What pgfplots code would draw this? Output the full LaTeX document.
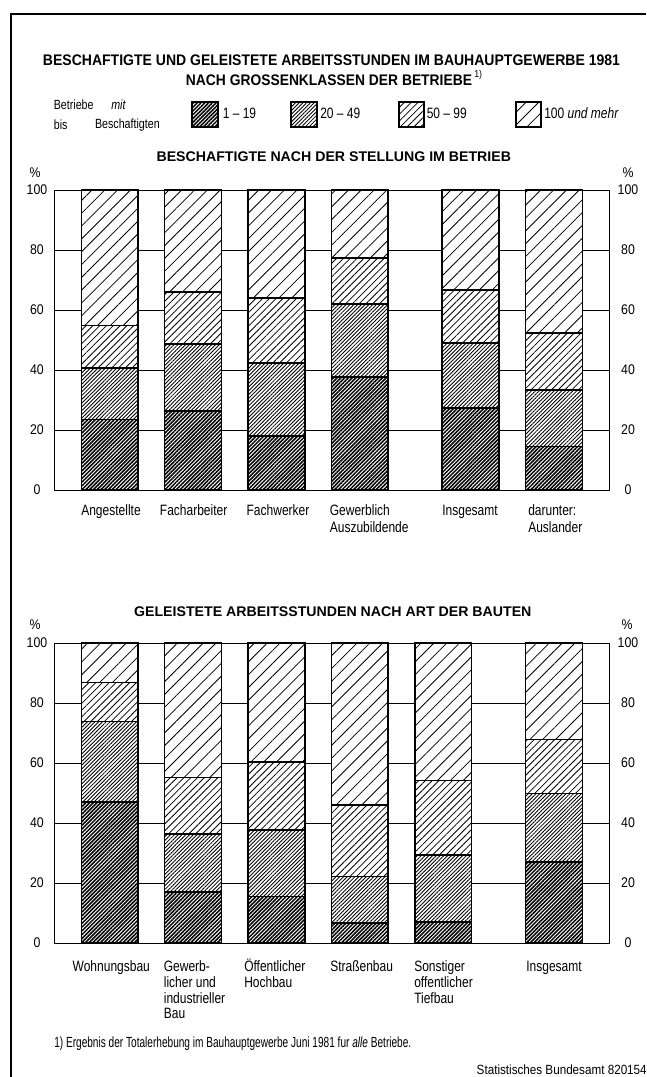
\documentclass[border=0pt]{standalone}
\usepackage{fontspec}
\setmainfont{Liberation Sans}[FakeStretch=0.88]
\newfontfamily\labfont{Liberation Sans}[FakeStretch=0.8]
\usepackage{graphicx}
\usepackage{pgfplots}
\pgfplotsset{compat=1.18}
\usetikzlibrary{patterns.meta}

\tikzset{
  hA/.style={preaction={fill=white}, pattern={Lines[angle=45,distance=2.0pt,line width=1.15pt]}},
  hB/.style={preaction={fill=white}, pattern={Lines[angle=45,distance=2.0pt,line width=0.65pt]}},
  hC/.style={preaction={fill=white}, pattern={Lines[angle=45,distance=3.6pt,line width=0.6pt]}},
  hD/.style={preaction={fill=white}, pattern={Lines[angle=45,distance=6.8pt,line width=0.6pt]}},
  bst/.style={draw=black, line width=1.2pt},
  lab/.style={font=\labfont\fontsize{11.25pt}{12pt}\selectfont, inner sep=0pt, text height=8.2pt, text depth=2.3pt},
  tk/.style={font=\fontsize{10.5pt}{12pt}\selectfont, inner sep=0pt},
}
\pgfplotsset{
  panel/.style={
    ybar stacked, bar width=0.683,
    scale only axis, width=415.65pt, height=225pt,
    xmin=0.34, xmax=6.99, ymin=0, ymax=100,
    ytick={20,40,60,80}, yticklabels={}, xtick=\empty,
    ytick style={draw=none},
    ymajorgrids, major grid style={black, line width=0.55pt},
    axis line style={black, line width=0.6pt},
    clip=false,
  }
}

\begin{document}
\begin{tikzpicture}
\useasboundingbox (0,0) rectangle (484.5pt,-807.75pt);

% ---- upper panel: Beschaeftigte nach der Stellung im Betrieb
\begin{axis}[panel, at={(41.1pt,-367.5pt)}, anchor=south west]
\addplot[bst, hA] coordinates {(1,23.5) (2,26.3) (3,18.0) (4,37.6) (5.33,27.3) (6.33,14.5)};
\addplot[bst, hB] coordinates {(1,17.1) (2,22.4) (3,24.4) (4,24.5) (5.33,21.7) (6.33,18.9)};
\addplot[bst, hC] coordinates {(1,14.2) (2,17.4) (3,21.6) (4,15.3) (5.33,17.6) (6.33,19.0)};
\addplot[bst, hD] coordinates {(1,45.2) (2,33.9) (3,36.0) (4,22.6) (5.33,33.4) (6.33,47.6)};
\end{axis}

% ---- lower panel: Geleistete Arbeitsstunden nach Art der Bauten
\begin{axis}[panel, at={(41.1pt,-707.25pt)}, anchor=south west]
\addplot[bst, hA] coordinates {(1,47.1) (2,17.0) (3,15.5) (4,6.7) (5,7.0) (6.33,27.1)};
\addplot[bst, hB] coordinates {(1,26.8) (2,19.3) (3,22.2) (4,15.5) (5,22.4) (6.33,22.8)};
\addplot[bst, hC] coordinates {(1,13.0) (2,18.9) (3,22.7) (4,23.8) (5,24.8) (6.33,18.0)};
\addplot[bst, hD] coordinates {(1,13.1) (2,44.8) (3,39.6) (4,54.0) (5,45.8) (6.33,32.1)};
\end{axis}

\begin{scope}[x=0.75pt,y=-0.75pt]
% frame
\draw[line width=1.1pt] (11,1077) -- (11,14) -- (646,14);

% titles
\node[font=\bfseries\fontsize{11.5pt}{13pt}\selectfont, inner sep=0pt] at (331.5,60)
  {\resizebox{432.75pt}{\height}{BESCHAFTIGTE UND GELEISTETE ARBEITSSTUNDEN IM BAUHAUPTGEWERBE 1981}};
\node[font=\bfseries\fontsize{11.5pt}{13pt}\selectfont, inner sep=0pt] at (329,80)
  {\resizebox{214.5pt}{\height}{NACH GROSSENKLASSEN DER BETRIEBE}};
\node[font=\fontsize{7.5pt}{8pt}\selectfont, inner sep=0pt, anchor=west] at (474,75) {1)};

% legend
\node[font=\labfont\fontsize{10pt}{11pt}\selectfont, inner sep=0pt, anchor=west] at (53.6,105) {Betriebe};
\node[font=\labfont\itshape\fontsize{10pt}{11pt}\selectfont, inner sep=0pt, anchor=west] at (111,105) {mit};
\node[font=\labfont\fontsize{10pt}{11pt}\selectfont, inner sep=0pt, anchor=west] at (53.6,125) {bis};
\node[font=\labfont\fontsize{10pt}{11pt}\selectfont, inner sep=0pt, anchor=west] at (94.8,125) {Beschaftigten};
\draw[bst, line width=1pt, hA] (192,102) rectangle (218,127);
\draw[bst, line width=1pt, hB] (291,102) rectangle (317,127);
\draw[bst, line width=1pt, hC] (399,102) rectangle (424,127);
\draw[bst, line width=1pt, hD] (516,102) rectangle (541,127);
\node[lab, anchor=west] at (222.5,115) {1 – 19};
\node[lab, anchor=west] at (320,115) {20 – 49};
\node[lab, anchor=west] at (426.5,115) {50 – 99};
\node[lab, anchor=west] at (544,115) {100 \textit{und mehr}};

% subtitle 1
\node[font=\bfseries\fontsize{10.5pt}{12pt}\selectfont, inner sep=0pt] at (333.8,156.7)
  {\resizebox{265.8pt}{\height}{BESCHAFTIGTE NACH DER STELLUNG IM BETRIEB}};
\node[tk] at (35,173) {\%};
\node[tk] at (628,173) {\%};
\foreach \v in {0,20,40,60,80,100} {
  \node[tk] at (37,{490-3*\v}) {\v};
  \node[tk] at (628,{490-3*\v}) {\v};
}
% category labels upper
\node[lab] at (111,511.7) {Angestellte};
\node[lab] at (193.6,511.7) {Facharbeiter};
\node[lab] at (278,511.7) {Fachwerker};
\node[lab,anchor=west] at (329.6,511.7) {Gewerblich};
\node[lab,anchor=west] at (329.6,528.5) {Auszubildende};
\node[lab] at (470,511.7) {Insgesamt};
\node[lab,anchor=west] at (528,511.7) {darunter:};
\node[lab,anchor=west] at (528,528.5) {Auslander};

% subtitle 2
\node[font=\bfseries\fontsize{10.5pt}{12pt}\selectfont, inner sep=0pt] at (332.8,612)
  {\resizebox{298pt}{\height}{GELEISTETE ARBEITSSTUNDEN NACH ART DER BAUTEN}};
\node[tk] at (35,625) {\%};
\node[tk] at (627,625) {\%};
\foreach \v in {0,20,40,60,80,100} {
  \node[tk] at (37,{943-3*\v}) {\v};
  \node[tk] at (628,{943-3*\v}) {\v};
}
% category labels lower
\node[lab] at (111.3,968) {Wohnungsbau};
\node[lab,anchor=west] at (163.6,968) {Gewerb-};
\node[lab,anchor=west] at (163.6,983.5) {licher und};
\node[lab,anchor=west] at (163.6,999.5) {industrieller};
\node[lab,anchor=west] at (163.6,1015) {Bau};
\node[lab,anchor=west] at (244,968) {Öffentlicher};
\node[lab,anchor=west] at (244,983.5) {Hochbau};
\node[lab] at (361.6,968) {Straßenbau};
\node[lab,anchor=west] at (414,968) {Sonstiger};
\node[lab,anchor=west] at (414,983.5) {offentlicher};
\node[lab,anchor=west] at (414,999.5) {Tiefbau};
\node[lab] at (554,968) {Insgesamt};

% footnote and source
\node[font=\fontsize{11pt}{12pt}\selectfont, inner sep=0pt, anchor=west] at (54,1044)
  {\resizebox{267.75pt}{\height}{1) Ergebnis der Totalerhebung im Bauhauptgewerbe Juni 1981 fur \textit{alle} Betriebe.}};
\node[font=\fontsize{10pt}{11pt}\selectfont, inner sep=0pt, anchor=east] at (647,1070)
  {\resizebox{127.5pt}{\height}{Statistisches Bundesamt 820154}};
\end{scope}
\end{tikzpicture}
\end{document}
